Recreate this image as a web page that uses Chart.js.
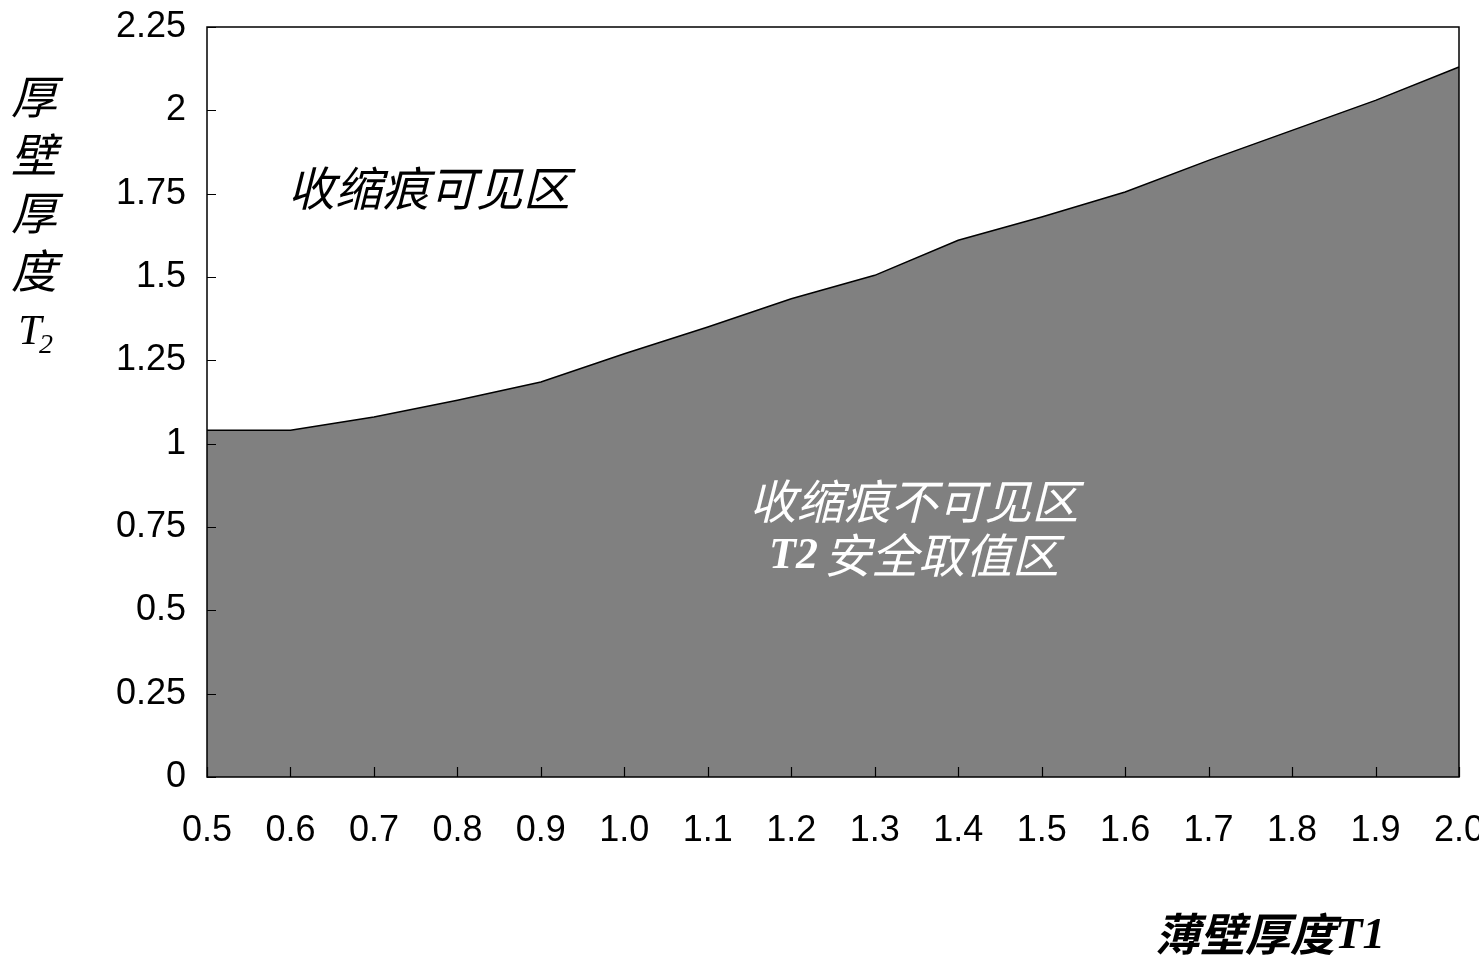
<!DOCTYPE html>
<html>
<head>
<meta charset="utf-8">
<script src="https://cdn.jsdelivr.net/npm/chart.js@4/dist/chart.umd.min.js"></script>
<style>
  html, body { margin: 0; padding: 0; background: #fff; }
  canvas { display: block; }
</style>
</head>
<body>
<canvas id="chart" width="1479" height="958"></canvas>
<script>
// 薄壁厚度 T1 (x) vs. 厚壁厚度 T2 上限 (y)
var thinWall = ['0.5', '0.6', '0.7', '0.8', '0.9', '1.0', '1.1', '1.2',
                '1.3', '1.4', '1.5', '1.6', '1.7', '1.8', '1.9', '2.0'];
var thickLimit = [1.04, 1.04, 1.08, 1.13, 1.185, 1.27, 1.35, 1.435,
                  1.505, 1.61, 1.68, 1.755, 1.85, 1.94, 2.03, 2.13];
var yTicks = [0, 0.25, 0.5, 0.75, 1, 1.25, 1.5, 1.75, 2, 2.25];

var cjk = '"Noto Sans CJK SC", sans-serif';
var serif = '"Liberation Serif", "DejaVu Serif", serif';

// frame, inward tick marks and the text annotations
var decorations = {
    id: 'decorations',
    afterDraw: function (chart) {
        var ctx = chart.ctx;
        var a = chart.chartArea;
        var xs = chart.scales.x, ys = chart.scales.y;
        ctx.save();
        ctx.strokeStyle = '#000';
        ctx.lineWidth = 1.5;
        ctx.strokeRect(a.left, a.top, a.right - a.left, a.bottom - a.top);

        ctx.lineWidth = 1.2;
        ctx.beginPath();
        yTicks.forEach(function (v) {
            var y = Math.round(ys.getPixelForValue(v)) + 0.5;
            ctx.moveTo(a.left, y);
            ctx.lineTo(a.left + 9, y);
        });
        thinWall.forEach(function (c, i) {
            var x = Math.round(xs.getPixelForValue(i)) + 0.5;
            ctx.moveTo(x, a.bottom);
            ctx.lineTo(x, a.bottom - 10);
        });
        ctx.stroke();

        ctx.textAlign = 'center';
        ctx.textBaseline = 'middle';

        // y title, written vertically
        ctx.fillStyle = '#000';
        ctx.font = 'italic 46px ' + cjk;
        ['厚', '壁', '厚', '度'].forEach(function (ch, i) {
            ctx.fillText(ch, 34, 97 + i * 58);
        });
        ctx.font = 'italic 42px ' + serif;
        ctx.fillText('T', 30, 333);
        ctx.font = 'italic 28px ' + serif;
        ctx.fillText('2', 46, 346);

        // x title
        ctx.textAlign = 'left';
        ctx.font = 'italic bold 45px ' + cjk;
        ctx.fillText('薄壁厚度', 1155, 934);
        var w = ctx.measureText('薄壁厚度').width;
        ctx.font = 'italic bold 45px ' + serif;
        ctx.fillText('T1', 1155 + w, 936);

        // region labels
        ctx.textAlign = 'center';
        ctx.font = 'italic 47px ' + cjk;
        ctx.fillText('收缩痕可见区', 429, 188);

        ctx.fillStyle = '#fff';
        ctx.fillText('收缩痕不可见区', 914, 501);
        ctx.font = 'italic bold 44px ' + serif;
        var t2w = ctx.measureText('T2').width + 6;
        ctx.font = 'italic 47px ' + cjk;
        var restW = ctx.measureText('安全取值区').width;
        var x0 = 914 - (t2w + restW) / 2;
        ctx.textAlign = 'left';
        ctx.font = 'italic bold 44px ' + serif;
        ctx.fillText('T2', x0, 557);
        ctx.font = 'italic 47px ' + cjk;
        ctx.fillText('安全取值区', x0 + t2w, 555);
        ctx.restore();
    }
};

new Chart(document.getElementById('chart'), {
    type: 'line',
    data: {
        labels: thinWall,
        datasets: [{
            data: thickLimit,
            borderColor: '#000',
            borderWidth: 1.5,
            backgroundColor: '#808080',
            fill: 'origin',
            pointRadius: 0,
            tension: 0
        }]
    },
    options: {
        responsive: false,
        animation: false,
        layout: { padding: { top: 27, right: 20, left: 0, bottom: 0 } },
        plugins: {
            legend: { display: false },
            tooltip: { enabled: false }
        },
        scales: {
            x: {
                offset: false,
                grid: { display: false, drawTicks: false },
                border: { display: false },
                ticks: {
                    color: '#000',
                    padding: 32,
                    maxRotation: 0,
                    autoSkip: false,
                    font: { family: '"Liberation Sans", Arial, sans-serif', size: 36 }
                },
                afterFit: function (scale) {
                    scale.height = 181;
                    scale.paddingLeft = 0;
                    scale.paddingRight = 0;
                }
            },
            y: {
                min: 0,
                max: 2.25,
                grid: { display: false, drawTicks: false },
                border: { display: false },
                afterBuildTicks: function (scale) {
                    scale.ticks = yTicks.map(function (v) { return { value: v }; });
                },
                ticks: {
                    color: '#000',
                    padding: 21,
                    font: { family: '"Liberation Sans", Arial, sans-serif', size: 36 },
                    callback: function (value) { return String(value); }
                },
                afterFit: function (scale) {
                    scale.width = 207;
                    scale.paddingTop = 0;
                    scale.paddingBottom = 0;
                }
            }
        }
    },
    plugins: [decorations]
});
</script>
</body>
</html>
